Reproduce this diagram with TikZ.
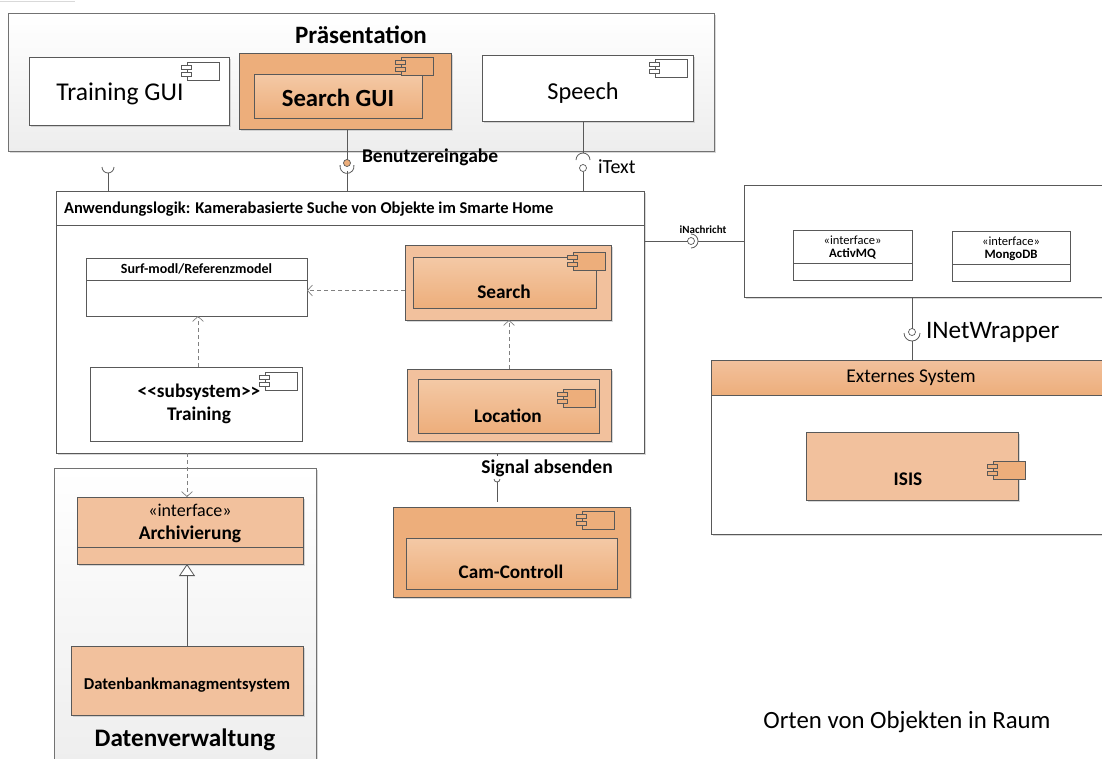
\documentclass[tikz,border=0pt]{standalone}
\usepackage{fontspec}
\setmainfont{Carlito}
\usetikzlibrary{arrows.meta,shadows}

\definecolor{orDark}{HTML}{EDAE7B}
\definecolor{orLight}{HTML}{F2C19D}
\definecolor{orPale}{HTML}{F4C9A6}
\definecolor{edge}{HTML}{595959}
\definecolor{panelgray}{HTML}{EDEDED}

\newcommand\fsz[1]{\fontsize{#1}{#1}\selectfont}

\tikzset{
  every node/.style={inner sep=0pt, outer sep=0pt},
  shad/.style={drop shadow={shadow xshift=1.5pt, shadow yshift=-1.5pt, fill=black!30, opacity=0.5}},
  wbox/.style={rectangle, draw=edge, line width=0.8pt, fill=white, shad},
  plainbox/.style={rectangle, draw=edge, line width=0.8pt, fill=white},
  obox/.style={rectangle, draw=edge, line width=0.8pt, shad},
  ibox/.style={rectangle, draw=edge, line width=0.8pt, top color=orPale, bottom color=orDark},
  panelbox/.style={rectangle, draw=edge!85, line width=0.8pt, top color=white, bottom color=panelgray, shad},
  hdrbox/.style={rectangle, draw=edge, line width=0.8pt, top color=orLight, bottom color=orDark},
  conn/.style={draw=edge, line width=0.8pt},
  ball/.style={circle, draw=edge, line width=0.7pt, fill=white, minimum size=7pt},
  dep/.style={draw=black!50, line width=0.7pt, dash pattern=on 4pt off 3pt,
    -{Straight Barb[length=5pt,width=11pt]}},
  gen/.style={draw=edge, line width=0.8pt, -{Triangle[open,length=12pt,width=16pt,fill=white]}},
  pics/compicon/.style={code={
    \path[draw=edge, line width=0.7pt, fill=#1] (0,0) rectangle (32,18);
    \path[draw=edge, line width=0.7pt, fill=#1] (-6,3) rectangle (4,7);
    \path[draw=edge, line width=0.7pt, fill=#1] (-6,10) rectangle (4,14);
  }},
}

\begin{document}
\begin{tikzpicture}[x=1pt,y=-1pt]
\path[use as bounding box] (0,0) rectangle (1102,758);
\clip (0,0) rectangle (1102,758);

% faint guide line at the top edge
\draw[black!15, line width=0.6pt] (0,1) -- (75,1);

% ---------------- Praesentation layer ----------------
\node[panelbox, minimum width=706pt, minimum height=138pt] (pres) at (361,82) {};
\node[font=\fsz{25}\bfseries] (presT) at (361,35) {Präsentation};

\node[wbox, minimum width=200pt, minimum height=68pt] (tgui) at (129,91) {};
\node[font=\fsz{25.6}] (tguiT) at (120,94) {Training GUI};
\pic at (187,62) {compicon=white};

\node[obox, fill=orDark, minimum width=212pt, minimum height=76pt] (sgui) at (345,91) {};
\node[ibox, minimum width=168pt, minimum height=44pt] (sguiIn) at (338,96) {};
\pic at (401,57) {compicon=orDark};
\node[font=\fsz{24.7}\bfseries] (sguiT) at (338,98) {Search GUI};

\node[wbox, minimum width=211pt, minimum height=66pt] (speech) at (587.5,88) {};
\node[font=\fsz{24.3}] (speechT) at (583,93) {Speech};
\pic at (655,59) {compicon=white};

% ---------------- Anwendungslogik ----------------
\node[wbox, minimum width=588pt, minimum height=262pt] (app) at (350,322) {};
\draw[conn] (app.west |- 0,225) -- (app.east |- 0,225);
\node[font=\fsz{16.5}\bfseries, anchor=west] (appT) at (64,209)
  {Anwendungslogik: Kamerabasierte Suche von Objekte im Smarte Home};

\node[plainbox, minimum width=221pt, minimum height=58pt] (surf) at (196.5,287) {};
\draw[conn] (surf.west |- 0,280) -- (surf.east |- 0,280);
\node[font=\fsz{14}\bfseries] (surfT) at (196.5,269) {Surf-modl/Referenzmodel};

\node[obox, fill=orLight, minimum width=206pt, minimum height=75pt] (search) at (508,282.5) {};
\node[ibox, minimum width=183pt, minimum height=51pt] (searchIn) at (504.5,282.5) {};
\pic at (573,252) {compicon=orDark};
\node[font=\fsz{19.3}\bfseries] (searchT) at (504,292) {Search};

\node[plainbox, minimum width=212pt, minimum height=74pt] (train) at (196,404) {};
\pic at (265,372) {compicon=white};
\node[font=\fsz{19.3}\bfseries, align=center] (trainT) at (199,404) {<{}<subsystem>{}>\\[3pt]Training};

\node[obox, fill=orLight, minimum width=204pt, minimum height=72pt] (loc) at (509,405) {};
\node[ibox, minimum width=181pt, minimum height=54pt] (locIn) at (508.5,406) {};
\pic at (563,389) {compicon=orDark};
\node[font=\fsz{19.3}\bfseries] (locT) at (508,416) {Location};

% dependencies inside the application layer
\draw[dep] ([yshift=-8pt]search.west) -- ([yshift=-8pt]search.west -| surf.east);
\draw[dep] (train.north -| 198,0) -- (surf.south -| 198,0);
\draw[dep] (loc.north) -- (loc.north |- search.south);

% ---------------- interfaces towards the presentation ----------------
\coordinate (reqL) at (108,167);
\draw[conn] ([xshift=6pt]reqL) arc[start angle=0, end angle=180, radius=6];
\draw[conn] ([yshift=-6pt]reqL) -- (reqL |- app.north);

\node[ball, fill=orDark] (bzBall) at (347,163) {};
\draw[conn] (bzBall |- sgui.south) -- (bzBall);
\coordinate (bzSock) at (347,164);
\draw[conn] ([shift={(190:7pt)}]bzSock) arc[start angle=190, end angle=-10, radius=7];
\draw[conn] ([yshift=-7pt]bzSock) -- (bzSock |- app.north);
\node[font=\fsz{19.5}\bfseries, anchor=west] (bzT) at (362,157) {Benutzereingabe};

\coordinate (itSock) at (583,160);
\draw[conn] (itSock |- speech.south) -- ([yshift=7pt]itSock);
\draw[conn] ([xshift=-7pt]itSock) arc[start angle=180, end angle=360, radius=7];
\node[ball] (itBall) at (583,168) {};
\draw[conn] (itBall) -- (itBall |- app.north);
\node[font=\fsz{20}, anchor=west] (itT) at (598,167) {iText};

% ---------------- messaging / storage interfaces ----------------
\node[wbox, minimum width=371pt, minimum height=112pt] (ifc) at (929.5,241) {};

\node[plainbox, minimum width=119pt, minimum height=50pt] (amq) at (852.5,255) {};
\draw[conn] (amq.west |- 0,263) -- (amq.east |- 0,263);
\node[font=\fsz{12.5}] (amqS) at (852.5,240) {«interface»};
\node[font=\fsz{12.8}\bfseries] (amqT) at (852.5,254) {ActivMQ};

\node[plainbox, minimum width=118pt, minimum height=50pt] (mdb) at (1011,256) {};
\draw[conn] (mdb.west |- 0,264) -- (mdb.east |- 0,264);
\node[font=\fsz{12.5}] (mdbS) at (1011,241) {«interface»};
\node[font=\fsz{12.8}\bfseries] (mdbT) at (1011,255) {MongoDB};

\node[ball] (naBall) at (691,241) {};
\draw[conn] (naBall -| app.east) -- (naBall);
\draw[conn] ([yshift=7pt]naBall.center) arc[start angle=270, end angle=450, radius=7];
\draw[conn] ([xshift=7pt]naBall.center) -- (naBall -| ifc.west);
\node[font=\fsz{11}\bfseries] (naT) at (703,230) {iNachricht};

% ---------------- external system ----------------
\node[wbox, minimum width=404pt, minimum height=174pt] (ext) at (913,447) {};
\node[hdrbox, minimum width=404pt, minimum height=35pt] (extH) at (913,377.5) {};
\node[font=\fsz{19.5}] (extT) at (911,378) {Externes System};

\node[obox, fill=orLight, minimum width=212pt, minimum height=68pt] (isis) at (912,466) {};
\node[font=\fsz{19.3}\bfseries] (isisT) at (908,479) {ISIS};
\pic at (993,461) {compicon=orDark};

\node[ball] (nwBall) at (912,332) {};
\draw[conn] (nwBall |- ifc.south) -- (nwBall);
\coordinate (nwSock) at (912,333);
\draw[conn] ([xshift=-8pt]nwSock) arc[start angle=180, end angle=0, radius=8];
\draw[conn] ([yshift=-8pt]nwSock) -- (nwSock |- extH.north);
\node[font=\fsz{25.2}, anchor=west] (nwT) at (926,332) {INetWrapper};

% ---------------- camera control ----------------
\node[obox, fill=orDark, minimum width=237pt, minimum height=90pt] (cam) at (511.5,552) {};
\node[ibox, minimum width=211pt, minimum height=51pt] (camIn) at (511.5,563.5) {};
\pic at (582,511) {compicon=orDark};
\node[font=\fsz{19.2}\bfseries] (camT) at (511,572) {Cam-Controll};

\coordinate (sgSock) at (497,479);
\draw[conn] (sgSock |- app.south) -- ++(0,3);
\draw[conn] ([xshift=-3pt]sgSock) arc[start angle=180, end angle=0, radius=3];
\draw[conn] ([yshift=-3pt]sgSock) -- ([yshift=5pt]sgSock |- cam.north);
\node[font=\fsz{19.5}\bfseries] (sgT) at (547,468) {Signal absenden};

% ---------------- Datenverwaltung ----------------
\node[panelbox, minimum width=262pt, minimum height=312pt] (dv) at (185,624) {};
\node[font=\fsz{25.2}\bfseries] (dvT) at (185,740) {Datenverwaltung};

\node[obox, fill=orLight, minimum width=226pt, minimum height=67pt] (arch) at (190,530.5) {};
\draw[conn] (arch.west |- 0,547) -- (arch.east |- 0,547);
\node[font=\fsz{18}] (archS) at (190,510) {«interface»};
\node[font=\fsz{19.4}\bfseries] (archT) at (190,534) {Archivierung};

\node[obox, fill=orLight, minimum width=232pt, minimum height=69pt] (dbms) at (187,680.5) {};
\node[font=\fsz{16.6}\bfseries] (dbmsT) at (187,685) {Datenbankmanagmentsystem};

\draw[dep] ([xshift=-3pt]arch.north |- app.south) -- ([xshift=-3pt]arch.north);
\draw[gen] (dbms.north) -- (dbms.north |- arch.south);

% ---------------- caption ----------------
\node[font=\fsz{24.8}] (caption) at (907,722) {Orten von Objekten in Raum};
\end{tikzpicture}
\end{document}
